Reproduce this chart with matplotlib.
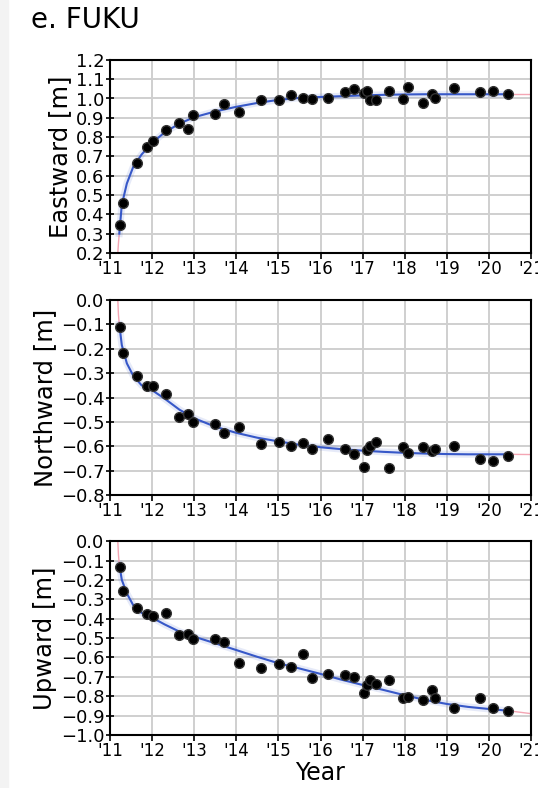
import numpy as np
import matplotlib.pyplot as plt
from matplotlib.patches import Rectangle

# GNSS epochs (decimal year)
t = [2011.24, 2011.32, 2011.65, 2011.89, 2012.01, 2012.33, 2012.65, 2012.86, 2012.96,
     2013.49, 2013.71, 2014.07, 2014.59, 2015.02, 2015.30, 2015.58, 2015.79, 2016.17,
     2016.57, 2016.80, 2017.03, 2017.10, 2017.18, 2017.32, 2017.63, 2017.97, 2018.07,
     2018.44, 2018.66, 2018.72, 2019.17, 2019.79, 2020.09, 2020.46]

east = [0.345, 0.461, 0.668, 0.748, 0.782, 0.837, 0.875, 0.841, 0.915,
        0.919, 0.970, 0.932, 0.993, 0.993, 1.019, 1.001, 0.996, 1.005,
        1.033, 1.050, 1.030, 1.040, 0.993, 0.993, 1.041, 0.998, 1.059,
        0.976, 1.022, 1.005, 1.053, 1.036, 1.039, 1.022]

north = [-0.109, -0.216, -0.310, -0.351, -0.351, -0.386, -0.481, -0.469, -0.502,
         -0.510, -0.544, -0.522, -0.591, -0.581, -0.599, -0.585, -0.611, -0.570,
         -0.611, -0.632, -0.684, -0.615, -0.600, -0.584, -0.688, -0.604, -0.626,
         -0.604, -0.618, -0.611, -0.598, -0.652, -0.659, -0.640]

up = [-0.132, -0.258, -0.347, -0.376, -0.385, -0.373, -0.485, -0.481, -0.507,
      -0.507, -0.522, -0.631, -0.656, -0.636, -0.648, -0.582, -0.708, -0.686,
      -0.691, -0.703, -0.785, -0.740, -0.715, -0.735, -0.716, -0.811, -0.806,
      -0.820, -0.768, -0.811, -0.863, -0.808, -0.859, -0.875]

# fitted postseismic curve
fit_t = [2011.22, 2011.28, 2011.40, 2011.55, 2011.75, 2012.0, 2012.3, 2012.65, 2013.0,
         2013.5, 2014.0, 2014.5, 2015.0, 2015.5, 2016.0, 2016.5, 2017.0, 2017.5,
         2018.0, 2018.5, 2019.0, 2019.5, 2020.0, 2020.46]
east_fit = [0.30, 0.45, 0.56, 0.645, 0.71, 0.77, 0.825, 0.87, 0.903,
            0.933, 0.957, 0.977, 0.993, 1.003, 1.008, 1.012, 1.016, 1.019,
            1.021, 1.022, 1.022, 1.022, 1.022, 1.022]
north_fit = [-0.10, -0.185, -0.26, -0.31, -0.35, -0.37, -0.405, -0.45, -0.485,
             -0.52, -0.545, -0.565, -0.58, -0.594, -0.604, -0.612, -0.618, -0.623,
             -0.627, -0.630, -0.632, -0.633, -0.633, -0.633]
up_fit = [-0.12, -0.20, -0.27, -0.33, -0.37, -0.395, -0.43, -0.467, -0.493,
          -0.527, -0.562, -0.597, -0.630, -0.657, -0.685, -0.715, -0.742, -0.768,
          -0.795, -0.820, -0.840, -0.855, -0.866, -0.875]

# model outside the data span (pink)
pre_t = [2011.185, 2011.20, 2011.22]
east_pre = [0.20, 0.25, 0.30]
north_pre = [0.0, -0.06, -0.10]
up_pre = [0.0, -0.07, -0.12]
post_t = [2020.46, 2021.0]
east_post = [1.022, 1.022]
north_post = [-0.633, -0.634]
up_post = [-0.875, -0.89]

years = list(range(2011, 2022))
year_labels = ["'%02d" % (y % 100) for y in years]

panels = [
    ("Eastward [m]", east, east_fit, east_pre, east_post, (0.2, 1.2)),
    ("Northward [m]", north, north_fit, north_pre, north_post, (-0.8, 0.0)),
    ("Upward [m]", up, up_fit, up_pre, up_post, (-1.0, 0.0)),
]
# axes rectangles in figure fractions (left, bottom, width, height)
rects = [(0.2045, 0.679, 0.7825, 0.245),
         (0.2045, 0.3718, 0.7825, 0.2475),
         (0.2045, 0.0673, 0.7825, 0.246)]


def fmt(v):
    if abs(v) < 1e-9:
        return "0.0"
    return "%.1f" % v if v > 0 else "\u2212%.1f" % abs(v)


fig = plt.figure(figsize=(5.38, 7.88), dpi=100)
fig.patches.append(Rectangle((0, 0), 8 / 538, 1, transform=fig.transFigure,
                             color="#f3f3f3", zorder=0))
fig.text(31 / 538, 1 - 20 / 788, "e. FUKU", fontsize=20, va="center", ha="left")

blue = "#3758c8"
for (ylab, obs, fit, pre, post, ylim), rect in zip(panels, rects):
    ax = fig.add_axes(rect)
    ax.grid(True, color="#cfcfcf", lw=1.4, zorder=0)
    ax.plot(pre_t, pre, color="#f4a6b4", lw=1.0, zorder=2)
    ax.plot(post_t, post, color="#f4a6b4", lw=1.0, zorder=2)
    ax.plot(fit_t, fit, color=blue, lw=5, alpha=0.12, zorder=2)
    ax.plot(fit_t, fit, color=blue, lw=1.5, zorder=3)
    ax.plot(t, obs, "o", color="black", ms=7, mec="#333333", zorder=4)
    ax.set_xlim(2011, 2021)
    ax.set_ylim(*ylim)
    ax.set_xticks(years)
    ax.set_xticklabels(year_labels)
    lo, hi = ylim
    yt = np.round(np.arange(lo, hi + 0.05, 0.1), 1)
    ax.set_yticks(yt)
    ax.set_yticklabels([fmt(v) for v in yt])
    ax.tick_params(axis="y", direction="inout", length=6, width=1.2, labelsize=13, pad=1)
    ax.tick_params(axis="x", direction="out", length=4, width=1.2, labelsize=12, pad=1)
    for s in ax.spines.values():
        s.set_linewidth(1.5)
    ax.set_ylabel(ylab, fontsize=17.5, labelpad=3)
    if ylab.startswith("Upward"):
        ax.set_xlabel("Year", fontsize=17, labelpad=1)

fig.savefig("out.png", dpi=100)
